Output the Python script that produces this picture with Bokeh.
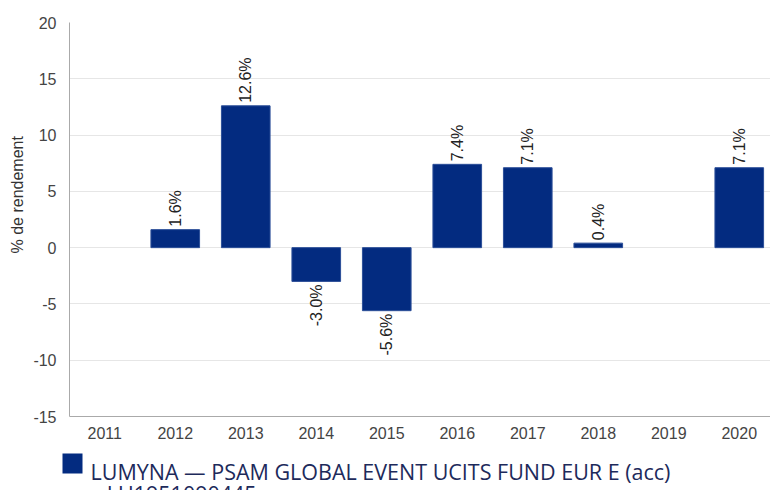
import math
from bokeh.plotting import figure
from bokeh.layouts import column
from bokeh.models import ColumnDataSource, FixedTicker, Range1d, Title
from bokeh.core.properties import value
from bokeh.embed import file_html
from bokeh.resources import INLINE

years = ["2011", "2012", "2013", "2014", "2015", "2016", "2017", "2018", "2019", "2020"]
returns = [None, 1.6, 12.6, -3.0, -5.6, 7.4, 7.1, 0.4, None, 7.1]
y_ticks = [-15, -10, -5, 0, 5, 10, 15, 20]
y_title = "% de rendement"
series_name = "LUMYNA — PSAM GLOBAL EVENT UCITS FUND EUR E (acc)"
series_code = "– LU1951090445"

NAVY = "#032b80"
W = 770
H_MAIN, H_LEG = 441, 49

idx = [i for i, v in enumerate(returns) if v is not None]
vals = [returns[i] for i in idx]
pos = [i for i in idx if returns[i] >= 0]
neg = [i for i in idx if returns[i] < 0]
pos_src = ColumnDataSource(dict(x=pos, y=[returns[i] for i in pos],
                                t=[f"{returns[i]:.1f}%" for i in pos]))
neg_src = ColumnDataSource(dict(x=neg, y=[returns[i] for i in neg],
                                t=[f"{returns[i]:.1f}%" for i in neg]))
bar_src = ColumnDataSource(dict(x=idx, top=vals))

p = figure(width=W, height=H_MAIN, output_backend="svg", toolbar_location=None,
           x_range=Range1d(-0.5, 9.443), y_range=Range1d(-15, 20),
           min_border_left=69, min_border_right=0, min_border_top=22, min_border_bottom=25)
p.frame_align = False
p.outline_line_color = None
p.background_fill_color = "white"
p.border_fill_color = "white"

p.vbar(x="x", top="top", bottom=0, width=0.69, source=bar_src,
       fill_color=NAVY, line_color="#2c4f98", line_width=1)

font = value("Liberation Sans")
p.text(x="x", y="y", text="t", source=pos_src, angle=math.pi / 2,
       text_align="left", text_baseline="middle", y_offset=-3,
       text_font=font, text_font_size="16px", text_color="#222222")
p.text(x="x", y="y", text="t", source=neg_src, angle=math.pi / 2,
       text_align="right", text_baseline="middle", y_offset=3,
       text_font=font, text_font_size="16px", text_color="#222222")

# axes
p.xaxis.ticker = FixedTicker(ticks=list(range(len(years))))
p.xaxis.major_label_overrides = {i: y for i, y in enumerate(years)}
p.yaxis.ticker = FixedTicker(ticks=y_ticks)
p.yaxis.major_label_overrides = {t: str(t) for t in y_ticks}
for ax in (p.xaxis, p.yaxis):
    ax.major_tick_line_color = None
    ax.minor_tick_line_color = None
    ax.axis_line_color = "#aaaaaa"
    ax.major_label_text_font = "Liberation Sans"
    ax.major_label_text_font_size = "16px"
    ax.major_label_text_color = "#444444"
p.xaxis.major_label_standoff = 4
p.yaxis.major_label_standoff = 7

p.xgrid.grid_line_color = None
p.ygrid.grid_line_color = "#e6e6e6"
p.ygrid.ticker = FixedTicker(ticks=y_ticks)

# y-axis title (as a left-side title so it can sit a little above centre)
p.add_layout(Title(text=y_title, align="left", offset=163, standoff=9,
                   text_font="Liberation Sans", text_font_size="16px",
                   text_font_style="normal", text_color="#333333"), "left")

# legend strip below the chart
leg = figure(width=W, height=H_LEG, output_backend="svg", toolbar_location=None,
             x_range=Range1d(0, W), y_range=Range1d(0, H_LEG),
             min_border=0)
leg.frame_align = False
leg.axis.visible = False
leg.grid.visible = False
leg.outline_line_color = None
leg.quad(left=[62], right=[82], top=[37], bottom=[17], fill_color=NAVY, line_color=None)
leg.text(x=[90, 90], y=[19, -3], text=[series_name, series_code],
         text_font=value("Open Sans"), text_font_size="21.5px",
         text_color="#1d2a5b", text_baseline="alphabetic", text_align="left")

layout = column(p, leg, spacing=0)
open("out.html", "w").write(file_html(layout, INLINE))
